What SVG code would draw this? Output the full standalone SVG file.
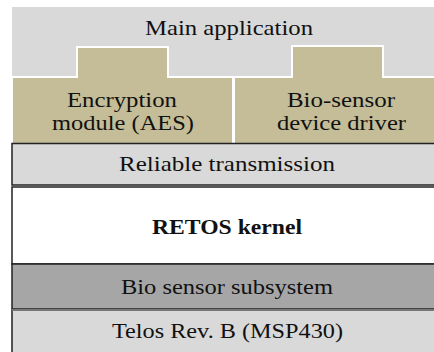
<svg xmlns="http://www.w3.org/2000/svg" width="434" height="352" viewBox="0 0 434 352">
<style>
text{fill:#111;text-anchor:middle;font-family:"Liberation Serif","Times New Roman",serif;font-size:21px}
.b{font-weight:bold;font-size:20px}
.lg{fill:#d9d9d9}
.tan{fill:#c4bd97;stroke:#fff;stroke-width:2}
.box{stroke:#222;stroke-width:1.5}
</style>
<rect width="434" height="352" fill="#fff"/>
<g id="main-application">
<rect class="lg" x="12" y="7" width="430" height="70"/>
<text x="229" y="35" textLength="168" lengthAdjust="spacingAndGlyphs">Main application</text>
</g>
<g id="encryption-module">
<path class="tan" d="M12,77 H77 V47 H168 V77 H233 V144 H12 Z"/>
<text x="122" y="107" textLength="110" lengthAdjust="spacingAndGlyphs">Encryption</text>
<text x="123" y="130" textLength="142" lengthAdjust="spacingAndGlyphs">module (AES)</text>
</g>
<g id="bio-sensor-driver">
<path class="tan" d="M234,77 H292 V46 H383 V77 H440 V144 H234 Z"/>
<text x="341" y="107" textLength="108" lengthAdjust="spacingAndGlyphs">Bio-sensor</text>
<text x="341.5" y="130" textLength="129" lengthAdjust="spacingAndGlyphs">device driver</text>
</g>
<g id="reliable-transmission">
<rect class="lg box" x="12" y="143.5" width="430" height="41.5"/>
<text x="227" y="171" textLength="216" lengthAdjust="spacingAndGlyphs">Reliable transmission</text>
</g>
<g id="retos-kernel">
<rect class="box" fill="#fff" x="12" y="187" width="430" height="77"/>
<text class="b" x="227" y="234" textLength="150" lengthAdjust="spacingAndGlyphs">RETOS kernel</text>
</g>
<g id="bio-sensor-subsystem">
<rect class="box" fill="#a6a6a6" x="12" y="264" width="430" height="45"/>
<text x="227" y="294" textLength="212" lengthAdjust="spacingAndGlyphs">Bio sensor subsystem</text>
</g>
<g id="telos">
<rect class="lg" x="12" y="310" width="430" height="50" stroke="#222" stroke-width="1.5"/>
<line x1="12" y1="310" x2="434" y2="310" stroke="#777" stroke-width="2"/>
<text x="227.5" y="338" textLength="231" lengthAdjust="spacingAndGlyphs">Telos Rev. B (MSP430)</text>
</g>
<g id="connectors"/>
</svg>
